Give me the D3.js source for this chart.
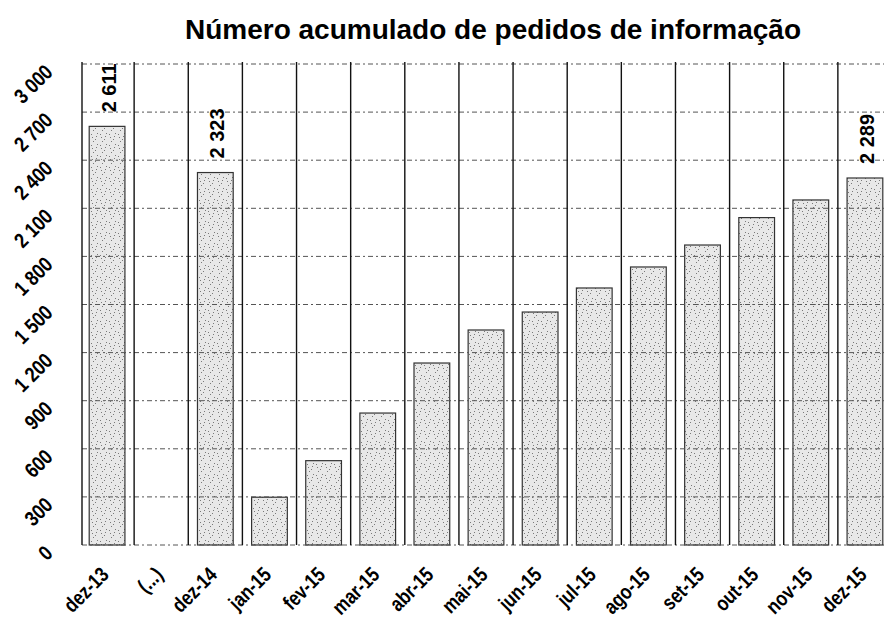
<!DOCTYPE html>
<html><head><meta charset="utf-8">
<script src="https://cdn.jsdelivr.net/npm/d3@7"></script>
<style>
html,body{margin:0;padding:0;background:#fff;}
svg{display:block;font-family:"Liberation Sans",Arial,sans-serif;}
</style></head>
<body>
<svg id="chart" width="884" height="619"></svg>
<script>
const title = "Número acumulado de pedidos de informação";
const categories = ["dez-13","(...)","dez-14","jan-15","fev-15","mar-15","abr-15","mai-15","jun-15","jul-15","ago-15","set-15","out-15","nov-15","dez-15"];
const values = [2611, null, 2323, 298, 526, 823, 1135, 1341, 1453, 1603, 1734, 1871, 2042, 2152, 2289];
const valueLabels = ["2 611", null, "2 323", null, null, null, null, null, null, null, null, null, null, null, "2 289"];
const yTicks = [0, 300, 600, 900, 1200, 1500, 1800, 2100, 2400, 2700, 3000];
const yTickLabels = ["0","300","600","900","1 200","1 500","1 800","2 100","2 400","2 700","3 000"];

const font = "'Liberation Sans',Arial,sans-serif";
const svg = d3.select("#chart");
const x = d3.scaleBand().domain(categories).range([80, 892]);
const y = d3.scaleLinear().domain([0, 3000]).range([545, 64]);

// stipple pattern
const defs = svg.append("defs");
const pat = defs.append("pattern").attr("id","stip").attr("patternUnits","userSpaceOnUse")
  .attr("width",9).attr("height",11);
pat.append("rect").attr("width",9).attr("height",11).attr("fill","#e8e8e8");
[[1,2],[5,7],[7,1],[3,9],[6,4],[2,5]].forEach(p=>pat.append("rect").attr("x",p[0]).attr("y",p[1]).attr("width",1).attr("height",1).attr("fill","#7a7a7a"));

// bars
const bw = x.step()*0.66;
svg.append("g").selectAll("rect").data(categories.map((c,i)=>({c,v:values[i]})).filter(d=>d.v!=null))
  .join("rect")
  .attr("x", d => x(d.c) + (x.step()-bw)/2)
  .attr("y", d => y(d.v))
  .attr("width", bw)
  .attr("height", d => y(0) - y(d.v))
  .attr("fill","url(#stip)")
  .attr("stroke","#333").attr("stroke-width",1.2);

// horizontal grid
svg.append("g").selectAll("line").data(yTicks).join("line")
  .attr("x1", 82).attr("x2", 884)
  .attr("y1", d=>y(d)).attr("y2", d=>y(d))
  .attr("stroke","#555").attr("stroke-width",1).attr("stroke-dasharray","5,3,2,3");

// vertical separators
svg.append("g").selectAll("line").data(categories.slice(1).concat(["__end"])).join("line")
  .attr("x1", d => d==="__end" ? 892 : x(d)).attr("x2", d => d==="__end" ? 892 : x(d))
  .attr("y1", y(3000)-2).attr("y2", y(0))
  .attr("stroke","#111").attr("stroke-width",1.4);
// left axis line
svg.append("line").attr("x1",82).attr("x2",82).attr("y1",y(3000)-2).attr("y2",y(0))
  .attr("stroke","#111").attr("stroke-width",1.4);

// y axis labels
const yAxis = d3.axisLeft(y).tickValues(yTicks).tickSize(0).tickFormat((d,i)=>yTickLabels[i]);
const gy = svg.append("g").attr("transform","translate(54,0)").call(yAxis);
gy.select(".domain").remove();
gy.selectAll("text")
  .attr("x",0).attr("dy",null).attr("y",0)
  .attr("transform","translate(0,9) rotate(-45) scale(0.84,1)")
  .attr("text-anchor","end")
  .attr("font-size",21).attr("font-weight","bold").attr("fill","#000")
  .attr("font-family",font);

// x axis labels
const xAxis = d3.axisBottom(x).tickSize(0);
const gx = svg.append("g").attr("transform","translate(3,576)").call(xAxis);
gx.select(".domain").remove();
gx.selectAll("text")
  .attr("x",0).attr("y",0).attr("dy",null)
  .attr("transform","rotate(-45) scale(0.82,1)")
  .attr("text-anchor","end")
  .attr("font-size",21).attr("font-weight","bold").attr("fill","#000")
  .attr("font-family",font);

// value labels
svg.append("g").selectAll("text").data(categories.map((c,i)=>({c,v:values[i],l:valueLabels[i]})).filter(d=>d.l))
  .join("text")
  .attr("transform", d => `translate(${x(d.c)+x.step()/2+9},${y(d.v)-14}) rotate(-90)`)
  .attr("text-anchor","start")
  .attr("font-size",20).attr("font-weight","bold").attr("fill","#000")
  .text(d=>d.l);

// title
svg.append("text").attr("x",493).attr("y",39).attr("text-anchor","middle")
  .attr("font-size",28).attr("font-weight","bold").attr("fill","#000").text(title);
</script>
</body></html>
